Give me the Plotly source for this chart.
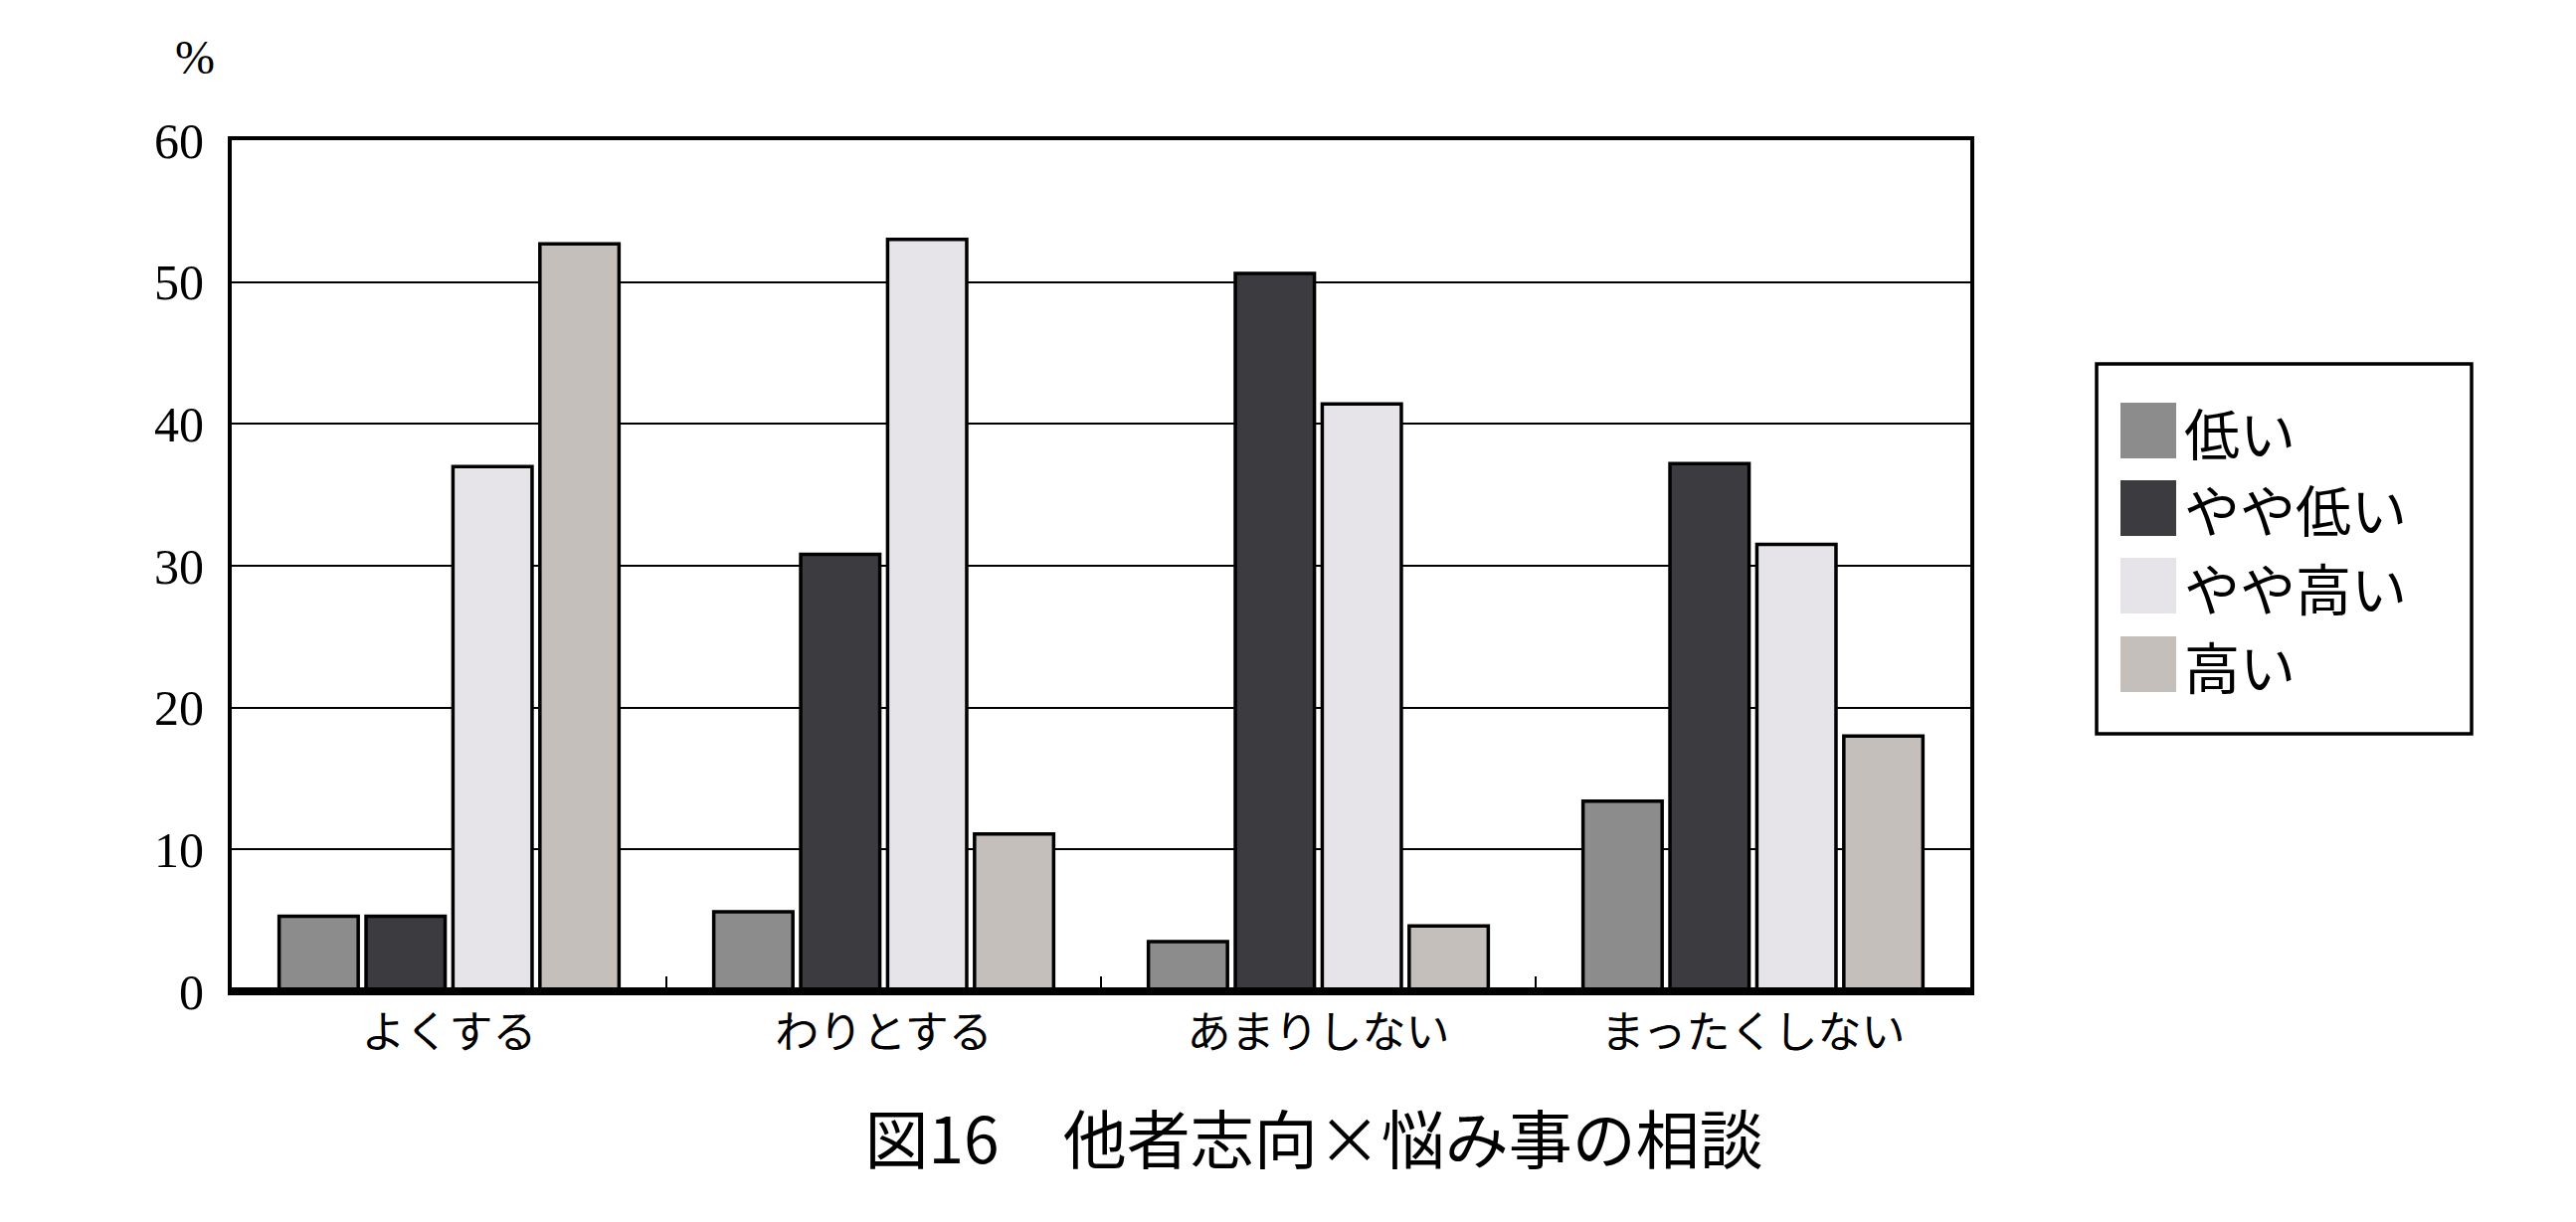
import plotly.graph_objects as go

categories = ["よくする", "わりとする", "あまりしない", "まったくしない"]
series_names = ["低い", "やや低い", "やや高い", "高い"]
low = [5.3, 5.6, 3.5, 13.4]
somewhat_low = [5.3, 30.8, 50.6, 37.2]
somewhat_high = [37.0, 53.0, 41.4, 31.5]
high = [52.7, 11.1, 4.6, 18.0]
y_ticks = [0, 10, 20, 30, 40, 50, 60]

values = [low, somewhat_low, somewhat_high, high]
colors = ["#8c8c8c", "#3c3c40", "#e6e4e8", "#c4bfba"]

W, H = 2590, 1229
L, R, T, B = 225, 1973, 133, 989

def px(x):
    return (x - L) / (R - L)

def py(y):
    return (B - y) / (B - T)

fig = go.Figure()
for name, vals, col in zip(series_names, values, colors):
    fig.add_trace(go.Bar(
        x=categories, y=vals, name=name,
        marker=dict(color=col, line=dict(color="black", width=3.5)),
        showlegend=False,
    ))

jp = "Noto Sans CJK JP"
serif = "Liberation Serif"

fig.update_layout(
    width=W, height=H,
    margin=dict(l=L, r=W - R, t=T, b=H - B, autoexpand=False),
    paper_bgcolor="white", plot_bgcolor="white",
    barmode="group", bargap=0.2, bargroupgap=0.09,
    font=dict(family=jp, color="black"),
    title=dict(
        text="図16　他者志向×悩み事の相談",
        font=dict(family=jp, size=64, color="black"),
        xref="container", yref="container",
        x=0.507, y=1 - 1140 / H, xanchor="center", yanchor="middle",
    ),
    xaxis=dict(
        showline=True, linecolor="black", linewidth=4, mirror=True,
        ticks="inside", tickson="boundaries", ticklen=15, tickwidth=2, tickcolor="black",
        tickfont=dict(family=jp, size=44, color="black"),
        showgrid=False,
    ),
    yaxis=dict(
        range=[0, 60], tickvals=y_ticks,
        showline=True, linecolor="black", linewidth=4, mirror=True,
        showgrid=True, gridcolor="black", gridwidth=2,
        ticks="", ticklabelstandoff=14,
        tickfont=dict(family=serif, size=50, color="black"),
        zeroline=False,
    ),
)

# thicker baseline
fig.add_shape(type="line", xref="paper", yref="paper", x0=0, x1=1, y0=0, y1=0,
              line=dict(color="black", width=8), layer="above")

# percent unit label
fig.add_annotation(text="%", xref="paper", yref="paper", x=px(188), y=py(50),
                   showarrow=False, font=dict(family=serif, size=48, color="black"),
                   xanchor="center", yanchor="middle")

# legend box drawn manually
fig.add_shape(type="rect", xref="paper", yref="paper",
              x0=px(2100), x1=px(2477), y0=py(730), y1=py(358),
              line=dict(color="black", width=3.5), fillcolor="white", layer="above")
item_y = [397, 475, 553, 632]
for name, col, yt in zip(series_names, colors, item_y):
    fig.add_shape(type="rect", xref="paper", yref="paper",
                  x0=px(2124), x1=px(2180), y0=py(yt + 56), y1=py(yt),
                  line=dict(width=0), fillcolor=col, layer="above")
    fig.add_annotation(text=name, xref="paper", yref="paper",
                       x=px(2186), y=py(yt + 28), showarrow=False,
                       xanchor="left", yanchor="middle",
                       font=dict(family=jp, size=56, color="black"))

fig.write_html("out.html")
